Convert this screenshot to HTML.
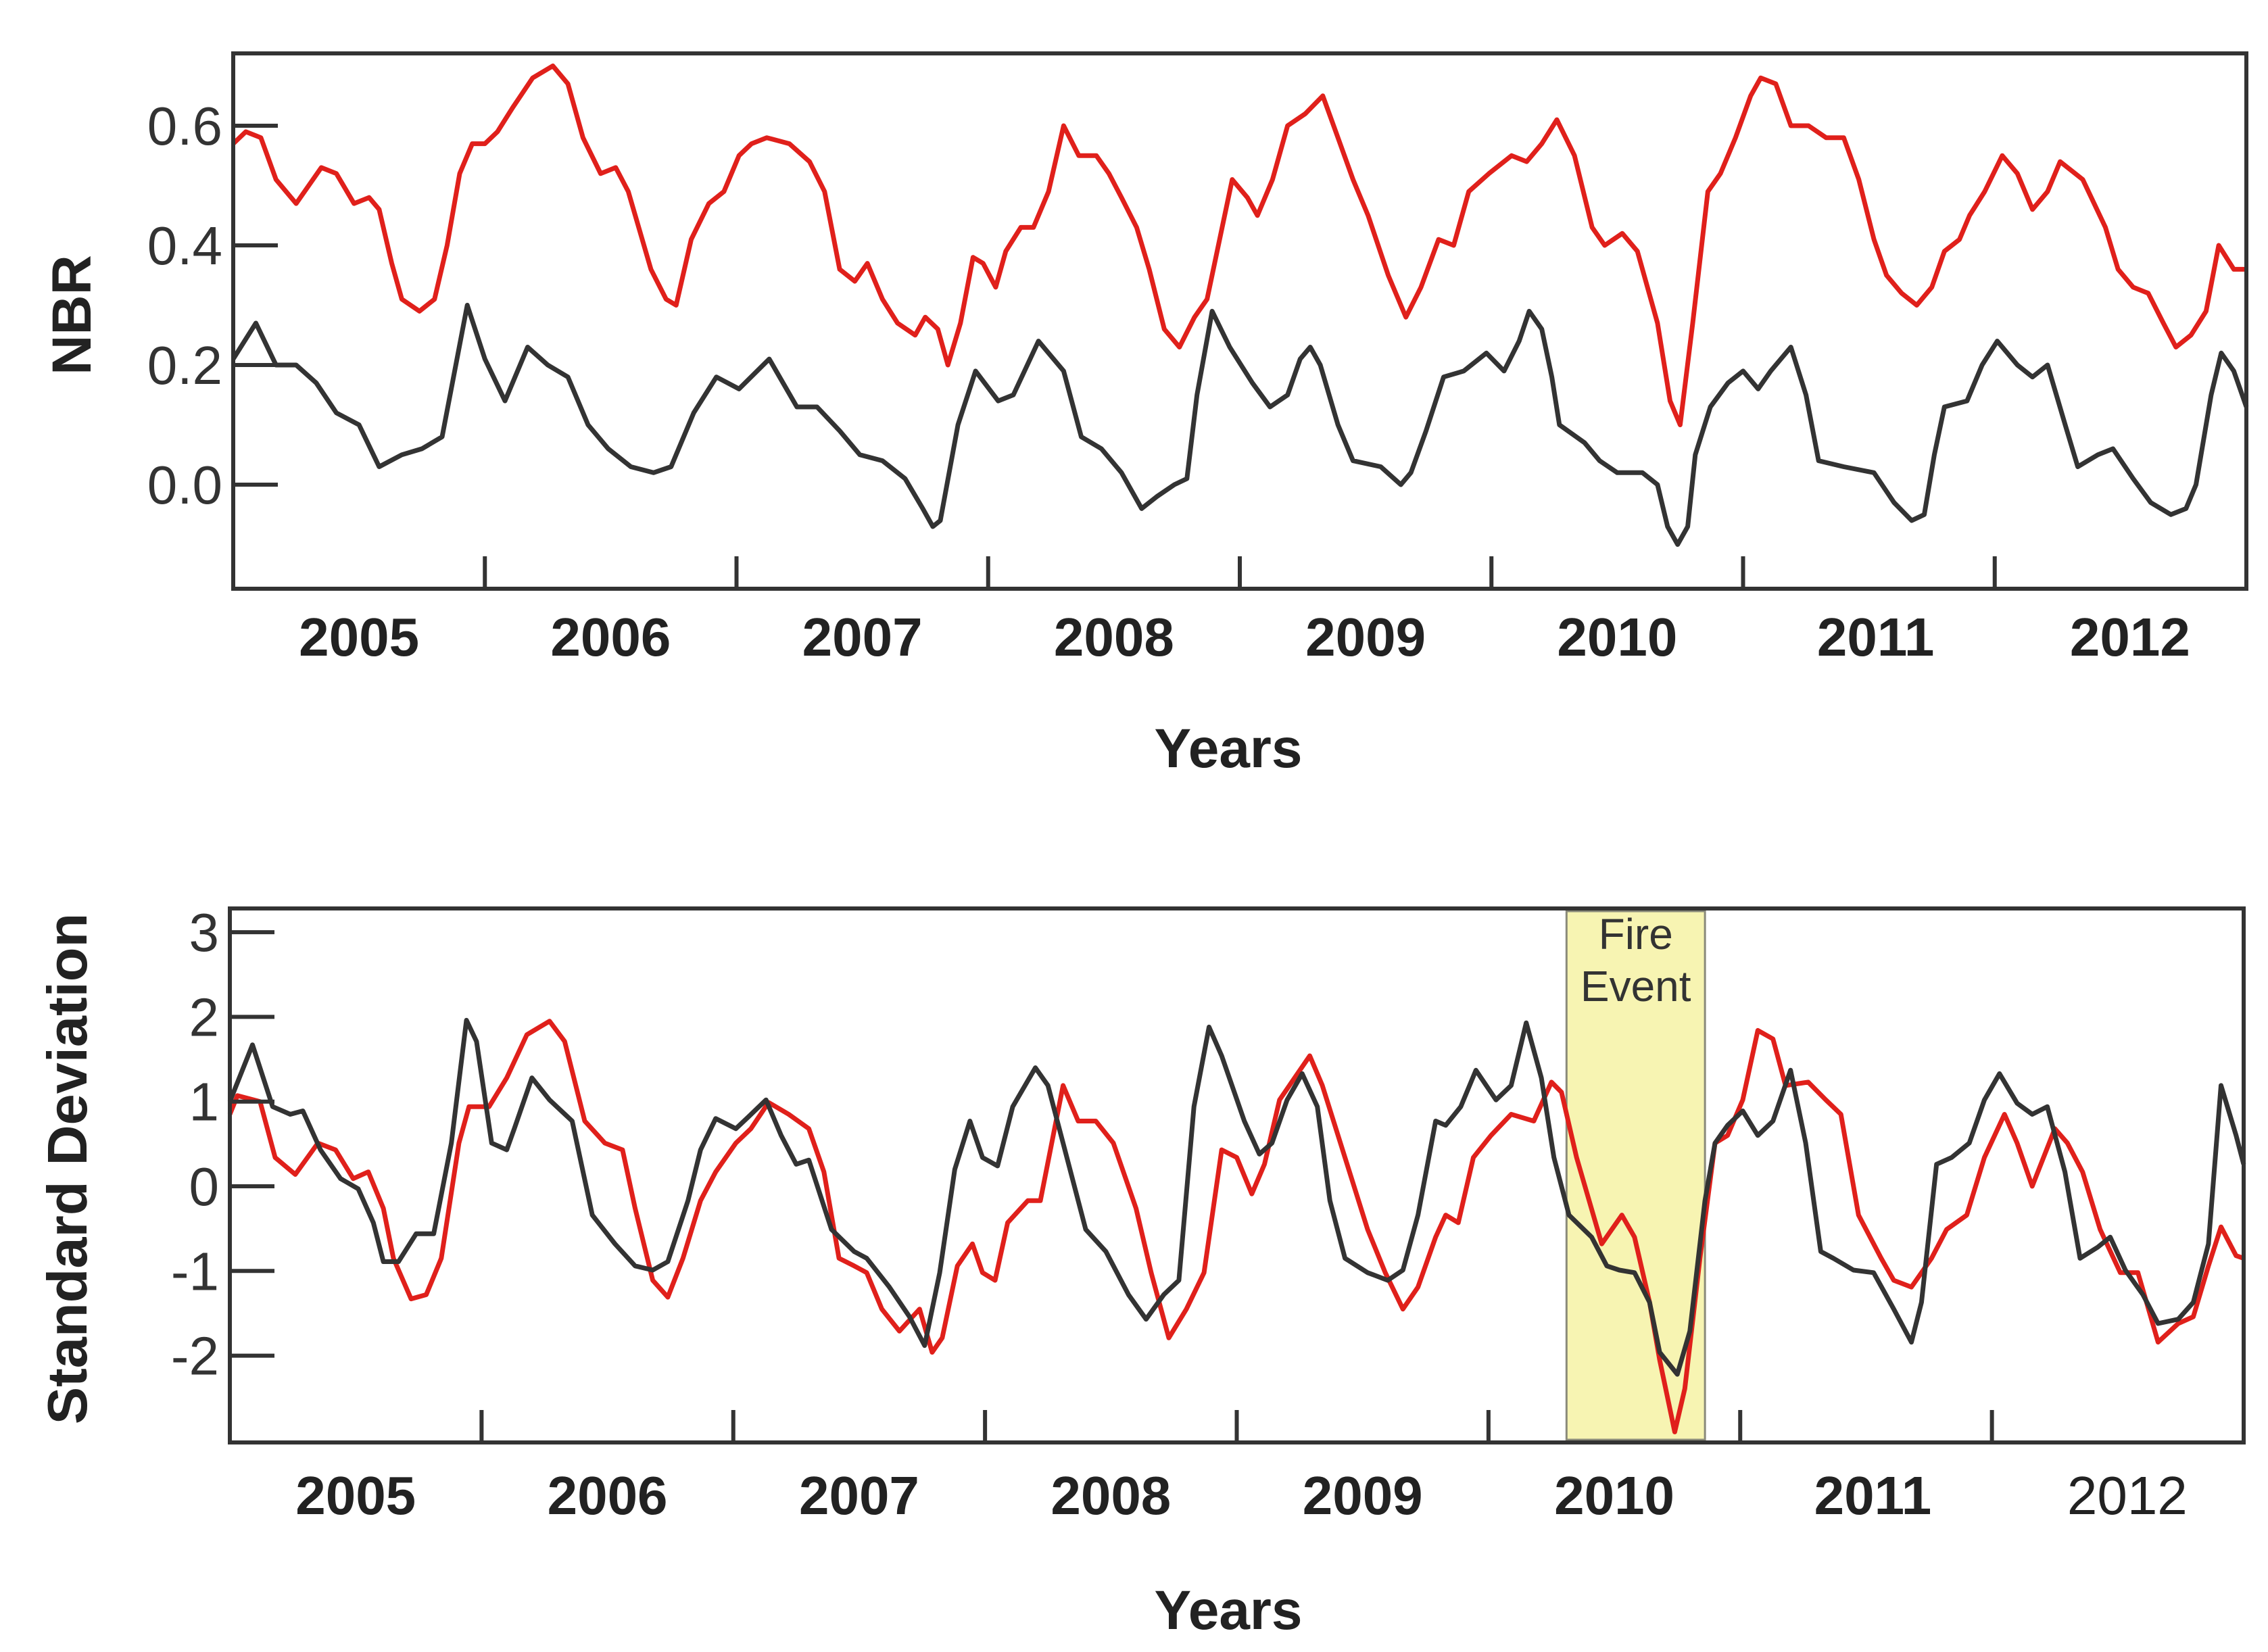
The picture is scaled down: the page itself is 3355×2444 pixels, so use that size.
<!DOCTYPE html>
<html><head><meta charset="utf-8"><style>
html,body{margin:0;padding:0;background:#fff;}
svg{display:block;font-family:"Liberation Sans",Arial,sans-serif;}
</style></head><body>
<svg id="chart" width="3355" height="2444" viewBox="0 0 3355 2444" xmlns="http://www.w3.org/2000/svg">
<rect width="3355" height="2444" fill="#fff"/>
<g id="top"></g>
<g id="bot"></g>
</svg>
<script>
const yearLabels = ["2005","2006","2007","2008","2009","2010","2011","2012"];
const nbrTicks = [0.0, 0.2, 0.4, 0.6];
const sdTicks = [-2, -1, 0, 1, 2, 3];

const nbrRedT = [0,.05,.11,.17,.25,.35,.41,.48,.54,.58,.63,.67,.74,.80,.85,.90,.95,1.00,1.05,1.11,1.19,1.27,1.33,1.39,1.46,1.52,1.57,1.66,1.72,1.76,1.82,1.89,1.95,2.01,2.06,2.12,2.21,2.29,2.35,2.41,2.47,2.52,2.58,2.64,2.71,2.75,2.80,2.84,2.89,2.94,2.98,3.03,3.07,3.13,3.18,3.24,3.30,3.36,3.43,3.48,3.53,3.59,3.64,3.70,3.76,3.82,3.87,3.93,3.97,4.03,4.07,4.13,4.19,4.26,4.33,4.39,4.45,4.51,4.59,4.66,4.72,4.79,4.85,4.91,4.99,5.08,5.14,5.20,5.26,5.33,5.40,5.45,5.52,5.58,5.66,5.71,5.75,5.80,5.86,5.91,5.97,6.03,6.07,6.13,6.19,6.26,6.33,6.40,6.46,6.52,6.57,6.63,6.69,6.75,6.80,6.86,6.90,6.96,7.03,7.09,7.15,7.21,7.26,7.35,7.44,7.49,7.55,7.61,7.67,7.72,7.78,7.84,7.89,7.95,8.00];
const nbrRedV = [0.57,0.59,0.58,0.51,0.47,0.53,0.52,0.47,0.48,0.46,0.37,0.31,0.29,0.31,0.40,0.52,0.57,0.57,0.59,0.63,0.68,0.70,0.67,0.58,0.52,0.53,0.49,0.36,0.31,0.30,0.41,0.47,0.49,0.55,0.57,0.58,0.57,0.54,0.49,0.36,0.34,0.37,0.31,0.27,0.25,0.28,0.26,0.20,0.27,0.38,0.37,0.33,0.39,0.43,0.43,0.49,0.60,0.55,0.55,0.52,0.48,0.43,0.36,0.26,0.23,0.28,0.31,0.43,0.51,0.48,0.45,0.51,0.60,0.62,0.65,0.58,0.51,0.45,0.35,0.28,0.33,0.41,0.40,0.49,0.52,0.55,0.54,0.57,0.61,0.55,0.43,0.40,0.42,0.39,0.27,0.14,0.10,0.27,0.49,0.52,0.58,0.65,0.68,0.67,0.60,0.60,0.58,0.58,0.51,0.41,0.35,0.32,0.30,0.33,0.39,0.41,0.45,0.49,0.55,0.52,0.46,0.49,0.54,0.51,0.43,0.36,0.33,0.32,0.27,0.23,0.25,0.29,0.40,0.36,0.36];

const nbrBlackT = [0,.09,.17,.25,.33,.41,.50,.58,.67,.75,.83,.93,1.00,1.08,1.17,1.25,1.33,1.41,1.49,1.58,1.67,1.74,1.83,1.92,2.01,2.13,2.24,2.32,2.41,2.49,2.58,2.67,2.74,2.78,2.81,2.88,2.95,3.04,3.10,3.20,3.30,3.37,3.45,3.53,3.61,3.67,3.74,3.79,3.83,3.89,3.96,4.05,4.12,4.19,4.24,4.28,4.32,4.39,4.45,4.56,4.64,4.68,4.74,4.81,4.89,4.98,5.05,5.11,5.15,5.20,5.24,5.27,5.37,5.43,5.50,5.60,5.66,5.70,5.74,5.78,5.81,5.87,5.94,6.00,6.06,6.11,6.19,6.25,6.30,6.40,6.52,6.60,6.67,6.72,6.76,6.80,6.89,6.95,7.01,7.09,7.15,7.21,7.28,7.33,7.41,7.47,7.55,7.62,7.70,7.76,7.80,7.86,7.90,7.95,8.00];
const nbrBlackV = [0.21,0.27,0.20,0.20,0.17,0.12,0.10,0.03,0.05,0.06,0.08,0.30,0.21,0.14,0.23,0.20,0.18,0.10,0.06,0.03,0.02,0.03,0.12,0.18,0.16,0.21,0.13,0.13,0.09,0.05,0.04,0.01,-0.04,-0.07,-0.06,0.10,0.19,0.14,0.15,0.24,0.19,0.08,0.06,0.02,-0.04,-0.02,0.00,0.01,0.15,0.29,0.23,0.17,0.13,0.15,0.21,0.23,0.20,0.10,0.04,0.03,0.00,0.02,0.09,0.18,0.19,0.22,0.19,0.24,0.29,0.26,0.18,0.10,0.07,0.04,0.02,0.02,0.00,-0.07,-0.10,-0.07,0.05,0.13,0.17,0.19,0.16,0.19,0.23,0.15,0.04,0.03,0.02,-0.03,-0.06,-0.05,0.05,0.13,0.14,0.20,0.24,0.20,0.18,0.20,0.10,0.03,0.05,0.06,0.01,-0.03,-0.05,-0.04,0.00,0.15,0.22,0.19,0.13];

const sdRedT = [0,.03,.12,.18,.26,.35,.42,.49,.55,.61,.65,.72,.78,.84,.91,.95,1.03,1.10,1.18,1.27,1.33,1.41,1.49,1.56,1.61,1.68,1.74,1.80,1.87,1.93,2.01,2.07,2.14,2.22,2.30,2.36,2.42,2.48,2.53,2.59,2.66,2.74,2.79,2.83,2.89,2.95,2.99,3.04,3.09,3.17,3.22,3.31,3.37,3.44,3.51,3.60,3.66,3.73,3.80,3.87,3.94,4.00,4.06,4.11,4.17,4.23,4.29,4.34,4.43,4.52,4.59,4.66,4.72,4.79,4.83,4.88,4.94,5.01,5.09,5.18,5.25,5.29,5.35,5.40,5.45,5.49,5.53,5.58,5.64,5.68,5.74,5.78,5.84,5.90,5.95,6.01,6.07,6.13,6.18,6.27,6.34,6.40,6.47,6.56,6.61,6.68,6.76,6.82,6.90,6.97,7.05,7.10,7.16,7.25,7.30,7.36,7.43,7.51,7.58,7.66,7.74,7.80,7.86,7.91,7.97,8.00];
const sdRedV = [0.85,1.07,1.0,0.34,0.14,0.51,0.43,0.09,0.17,-0.26,-0.85,-1.33,-1.28,-0.85,0.51,0.94,0.94,1.28,1.79,1.95,1.71,0.77,0.51,0.43,-0.26,-1.11,-1.31,-0.85,-0.17,0.17,0.51,0.68,0.99,0.85,0.68,0.17,-0.85,-0.94,-1.02,-1.45,-1.71,-1.45,-1.96,-1.79,-0.94,-0.68,-1.02,-1.11,-0.43,-0.17,-0.17,1.19,0.77,0.77,0.51,-0.26,-1.02,-1.79,-1.45,-1.02,0.43,0.34,-0.09,0.26,1.02,1.28,1.54,1.19,0.34,-0.51,-1.02,-1.45,-1.19,-0.60,-0.34,-0.43,0.34,0.60,0.85,0.77,1.23,1.11,0.34,-0.17,-0.68,-0.51,-0.34,-0.60,-1.37,-2.05,-2.90,-2.39,-0.85,0.51,0.60,1.02,1.84,1.74,1.19,1.23,1.02,0.85,-0.34,-0.85,-1.11,-1.19,-0.85,-0.51,-0.34,0.34,0.85,0.51,0.0,0.68,0.51,0.17,-0.51,-1.02,-1.02,-1.84,-1.62,-1.54,-0.94,-0.48,-0.82,-0.85];

const sdBlackT = [0,.09,.17,.24,.29,.36,.44,.51,.57,.61,.67,.74,.81,.88,.94,.98,1.04,1.10,1.13,1.20,1.27,1.36,1.44,1.53,1.61,1.68,1.74,1.82,1.87,1.93,2.01,2.06,2.13,2.19,2.25,2.30,2.39,2.48,2.53,2.62,2.70,2.76,2.82,2.88,2.94,2.99,3.05,3.11,3.20,3.25,3.31,3.40,3.48,3.57,3.64,3.71,3.77,3.83,3.89,3.94,4.03,4.09,4.14,4.20,4.26,4.32,4.37,4.43,4.52,4.60,4.66,4.72,4.79,4.83,4.89,4.95,5.03,5.09,5.15,5.21,5.26,5.32,5.41,5.47,5.52,5.58,5.64,5.68,5.75,5.80,5.86,5.90,5.95,6.01,6.07,6.13,6.20,6.26,6.32,6.37,6.45,6.53,6.61,6.68,6.72,6.78,6.84,6.91,6.97,7.03,7.10,7.16,7.22,7.29,7.35,7.42,7.47,7.53,7.60,7.66,7.74,7.80,7.86,7.91,7.97,8.00];
const sdBlackV = [1.0,1.67,0.94,0.85,0.89,0.43,0.09,-0.03,-0.43,-0.89,-0.89,-0.56,-0.56,0.51,1.96,1.71,0.51,0.43,0.68,1.28,1.02,0.77,-0.34,-0.68,-0.94,-0.99,-0.89,-0.17,0.43,0.80,0.68,0.82,1.02,0.60,0.26,0.31,-0.51,-0.77,-0.85,-1.19,-1.54,-1.88,-1.02,0.20,0.77,0.34,0.24,0.94,1.40,1.19,0.51,-0.51,-0.77,-1.28,-1.57,-1.28,-1.11,0.94,1.88,1.54,0.77,0.38,0.51,1.02,1.33,0.94,-0.17,-0.85,-1.02,-1.11,-0.99,-0.34,0.77,0.72,0.94,1.37,1.02,1.19,1.93,1.28,0.34,-0.34,-0.60,-0.94,-0.99,-1.02,-1.37,-1.96,-2.22,-1.71,-0.17,0.51,0.72,0.89,0.60,0.77,1.37,0.51,-0.77,-0.85,-0.99,-1.02,-1.45,-1.84,-1.37,0.26,0.34,0.51,1.02,1.33,0.98,0.85,0.94,0.17,-0.85,-0.72,-0.60,-0.99,-1.28,-1.62,-1.57,-1.37,-0.68,1.19,0.60,0.26];

const fireStart = 5.31, fireEnd = 5.86;

const NS = "http://www.w3.org/2000/svg";
function mk(parent, tag, attrs, text){
  const e = document.createElementNS(NS, tag);
  for (const k in attrs) e.setAttribute(k, attrs[k]);
  if (text !== undefined) e.textContent = text;
  parent.appendChild(e);
  return e;
}

function panel(g, cfg){
  const xs = t => cfg.x0 + (t/8)*(cfg.x1-cfg.x0);
  const ys = v => cfg.yZero - v*cfg.yUnit;
  if (cfg.fire){
    const fr = mk(g,'rect',{x:xs(fireStart),y:cfg.top+4,width:xs(fireEnd)-xs(fireStart),height:cfg.bottom-cfg.top-8,fill:'#f7f4b2',stroke:'#8a8a7a','stroke-width':3});
    
    
    const cx = (xs(fireStart)+xs(fireEnd))/2;
    const t1 = mk(g,'text',{x:cx,y:cfg.top+60,'text-anchor':'middle','font-size':64,fill:'#333'},'Fire');
    
    
    const t2 = mk(g,'text',{x:cx,y:cfg.top+137,'text-anchor':'middle','font-size':64,fill:'#333'},'Event');
    
    
  }
  cfg.series.forEach(s=>{
    const d = s.t.map((t,i)=>(i?'L':'M')+xs(t).toFixed(1)+','+ys(s.v[i]).toFixed(1)).join('');
    const p = mk(g,'path',{d:d,fill:'none',stroke:s.color,'stroke-width':7,'stroke-linejoin':'round'});
    
    
  });
  const box = mk(g,'rect',{x:cfg.x0,y:cfg.top,width:cfg.x1-cfg.x0,height:cfg.bottom-cfg.top,fill:'none',stroke:'#333','stroke-width':6});
  
  
  cfg.yticks.forEach(v=>{
    const y = ys(v);
    const tk = mk(g,'line',{x1:cfg.x0,x2:cfg.x0+66,y1:y,y2:y,stroke:'#333','stroke-width':6});
    
    
    const lb = mk(g,'text',{x:cfg.x0-16,y:y+28,'text-anchor':'end','font-size':80,fill:'#333'},cfg.fmt(v));
    
    
  });
  for (let i=1;i<8;i++){
    const x = xs(i);
    const tk = mk(g,'line',{x1:x,x2:x,y1:cfg.bottom,y2:cfg.bottom-48,stroke:'#333','stroke-width':6});
    
    
  }
  yearLabels.forEach((lab,i)=>{
    const light = cfg.lastLight && i===7;
    const lb = mk(g,'text',{x:xs(i+0.5)+(i===7?14:(i===6?10:0)),y:cfg.labelY,'text-anchor':'middle','font-size':80,'font-weight':light?'normal':'bold',fill:'#222'},lab);
    
    
  });
  const xt = mk(g,'text',{x:1817,y:cfg.titleY,'text-anchor':'middle','font-size':82,'font-weight':'bold',fill:'#222'},'Years');
  
  
  const yt = mk(g,'text',{x:0,y:0,'text-anchor':'middle','font-size':cfg.ytSize,'font-weight':'bold',fill:'#222',transform:'translate('+cfg.ytX+','+cfg.ytY+') rotate(-90)'},cfg.ytitle);
  
  
}

panel(document.getElementById('top'),{
  x0:345,x1:3323,top:79,bottom:871,yZero:717,yUnit:885,
  yticks:nbrTicks, fmt:v=>v.toFixed(1), labelY:970, titleY:1135,
  ytitle:'NBR', ytX:134, ytY:466, ytSize:82,
  series:[{t:nbrRedT,v:nbrRedV,color:'#e0201b',name:'nbr-red-series'},{t:nbrBlackT,v:nbrBlackV,color:'#333',name:'nbr-black-series'}]
});
panel(document.getElementById('bot'),{
  x0:340,x1:3319,top:1344,bottom:2134,yZero:1755,yUnit:125.3,
  yticks:sdTicks, fmt:v=>String(v), labelY:2240, titleY:2410, fire:true, lastLight:true,
  ytitle:'Standard Deviation', ytX:128, ytY:1729, ytSize:83,
  series:[{t:sdRedT,v:sdRedV,color:'#e0201b',name:'sd-red-series'},{t:sdBlackT,v:sdBlackV,color:'#333',name:'sd-black-series'}]
});
</script>
</body></html>
